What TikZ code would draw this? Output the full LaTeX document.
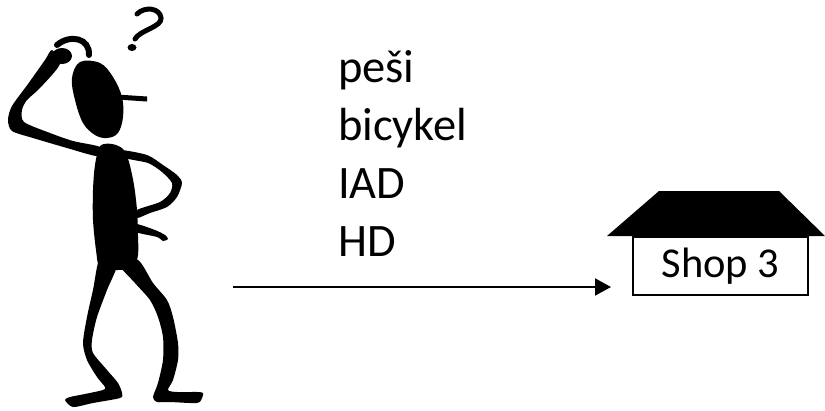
\documentclass[tikz,border=0pt]{standalone}
\usepackage{fontspec}
\setmainfont{Carlito}
\usetikzlibrary{arrows.meta,calc}
\begin{document}
\begin{tikzpicture}[x=1pt,y=-1pt,
  ink/.style={fill=black,draw=none},
  limb/.style={ink,smooth cycle,tension=0.45},
  mode/.style={anchor=base west,inner sep=0pt,font=\fontsize{46.5}{52}\selectfont},
  shopbox/.style={draw=black,line width=2pt,minimum width=175pt,minimum height=58pt,
    inner sep=0pt,font=\fontsize{42.5}{48}\selectfont},
  route/.style={line width=2pt,-{Triangle[length=16pt,width=17pt]}}]
\useasboundingbox (0,0) rectangle (825,410);

% --- puzzled walker ---
% head
\fill[ink] plot[smooth cycle,tension=0.6] coordinates {(80,62) (100,63) (113,77) (122,97)
  (123,117) (118,133) (107,138) (95,135) (83,123) (75,100) (72,78)};
% cigarette
\fill[ink] (117,94.5) -- (147,96.5) -- (147,101.5) -- (117,99.5) -- cycle;
% raised arm scratching the head
\fill[ink] plot[limb] coordinates {(100,147) (73,141) (50,133) (24,122) (22,110) (27,100)
  (40,88) (60,64) (52,50) (45,60) (28,84) (12,106) (8,120) (12,131) (33,138) (67,148) (97,156)};
\fill[ink] (62,56) ellipse [x radius=10,y radius=8];
\draw[line width=6pt,line cap=round] (57,45) .. controls (70,34) and (90,38) .. (89,55);
% body
\fill[ink] plot[smooth cycle,tension=0.5] coordinates {(100,146) (112,144) (123,149) (129,162)
  (134,185) (137,210) (138,235) (138,255) (133,268) (117,270) (100,268) (96,250) (93,220)
  (93,190) (95,165)};
% arm on the hip
\fill[ink] plot[limb] coordinates {(120,150) (147,155) (163,165) (177,175) (182,183) (177,197)
  (167,207) (150,213) (137,218) (137,210) (160,202) (170,193) (172,183) (162,172) (148,163)
  (125,158)};
\fill[ink] plot[limb] coordinates {(136,224) (155,230) (165,235) (168,239) (163,241) (157,237)
  (136,232)};
% left leg and foot
\fill[ink] plot[limb] coordinates {(100,258) (93,290) (87,317) (83,343) (87,360) (97,377)
  (105,387) (103,390) (85,394) (70,397) (65,400) (73,407) (93,403) (120,398) (122,393)
  (118,383) (107,370) (93,353) (92,340) (97,317) (107,290) (117,264)};
% right leg and foot
\fill[ink] plot[limb] coordinates {(118,263) (135,283) (150,300) (158,317) (163,337) (163,360)
  (158,383) (153,397) (157,402) (170,402) (197,403) (202,398) (203,393) (197,392) (177,392)
  (168,390) (173,380) (178,360) (178,343) (173,317) (167,300) (153,283) (138,260)};
% question mark
\draw[line width=5pt,line cap=round] (137,14) .. controls (145,6) and (160,8) .. (161,18)
  .. controls (162,27) and (140,30) .. (135,39);
\fill[ink] (132,47.5) ellipse [x radius=4.5,y radius=3.5];

% --- travel modes ---
\node[mode] (walk) at (338,82) {peši};
\node[mode] (bike) at (338,140) {bicykel};
\node[mode] (car)  at (338,198) {IAD};
\node[mode] (bus)  at (338,256) {HD};

% --- destination ---
\node[shopbox] (shop) at (720.5,266) {Shop 3};
\fill[ink] ($(shop.north west)+(-25,0)$) -- ($(shop.north west)+(27,-45)$)
  -- ($(shop.north east)+(-30,-45)$) -- ($(shop.north east)+(16,0)$) -- cycle;

\coordinate (from) at (233,287);
\coordinate (to) at (611,287);
\draw[route] (from) -- (to);
\end{tikzpicture}
\end{document}
